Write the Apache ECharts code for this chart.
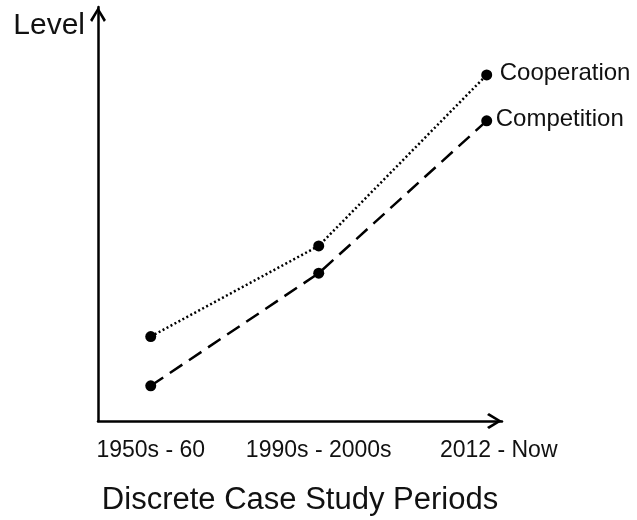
<!DOCTYPE html>
<html>
<head>
<meta charset="utf-8">
<script src="https://cdn.jsdelivr.net/npm/echarts@6/dist/echarts.min.js"></script>
<style>
  html, body { margin: 0; padding: 0; background: #fff; }
  #chart { width: 637px; height: 520px; }
</style>
</head>
<body>
<div id="chart"></div>
<script>
// Discrete case study periods (x) vs level (y, unitless 0-100)
const periods = ['1950s - 60', '1990s - 2000s', '2012 - Now'];
const periodPos = [0, 1, 2];
const cooperation = [20.4, 42.3, 83.6];
const competition = [8.5, 35.7, 72.5];

const FONT = 'Liberation Sans';
// open chevron arrow head, pointing up
const ARROW = 'path://M0,82 L50,0 L100,82 L87,94 L50,30 L13,94 Z';

const chart = echarts.init(document.getElementById('chart'), null, { renderer: 'canvas' });

const axisLine = {
  show: true,
  onZero: false,
  symbol: ['none', ARROW],
  symbolSize: [16, 15],
  symbolOffset: [0, -7.5],
  lineStyle: { color: '#000', width: 2.5 },
};

chart.setOption({
  backgroundColor: '#fff',
  animation: false,
  grid: { left: 98, right: 135, top: 7, bottom: 99, outerBoundsMode: 'none' },
  xAxis: {
    type: 'value',
    min: -0.314, max: 2.091,
    name: 'Discrete Case Study Periods',
    nameLocation: 'middle',
    nameGap: 64,
    nameTextStyle: { color: '#111', fontSize: 31, fontFamily: FONT },
    axisLine: axisLine,
    axisTick: { show: false },
    splitLine: { show: false },
    axisLabel: {
      customValues: periodPos,
      // last label sits a little right of its point in the original
      formatter: v => {
        const i = Math.round(v);
        return i === periods.length - 1 ? '{last|' + periods[i] + '}' : periods[i];
      },
      rich: { last: { padding: [0, 0, 0, 24], color: '#111', fontSize: 23, fontFamily: FONT } },
      color: '#111', fontSize: 23, fontFamily: FONT, margin: 18,
    },
  },
  yAxis: {
    type: 'value',
    min: 0, max: 100,
    name: 'Level',
    nameLocation: 'end',
    nameGap: -4,
    nameTextStyle: {
      color: '#111', fontSize: 30, fontFamily: FONT,
      align: 'right', verticalAlign: 'top', padding: [0, 13, 0, 0],
    },
    axisLine: axisLine,
    axisTick: { show: false },
    axisLabel: { show: false },
    splitLine: { show: false },
  },
  series: [
    {
      name: 'Cooperation',
      type: 'line',
      data: periodPos.map((x, i) => [x, cooperation[i]]),
      symbol: 'circle', symbolSize: 11,
      itemStyle: { color: '#000' },
      lineStyle: { color: '#000', width: 2.5, type: [2, 2.5] },
      endLabel: {
        show: true, formatter: '{a}', distance: 13, offset: [0, -2],
        color: '#111', fontSize: 24, fontFamily: FONT,
      },
    },
    {
      name: 'Competition',
      type: 'line',
      data: periodPos.map((x, i) => [x, competition[i]]),
      symbol: 'circle', symbolSize: 11,
      itemStyle: { color: '#000' },
      lineStyle: { color: '#000', width: 2.5, type: [15, 8] },
      endLabel: {
        show: true, formatter: '{a}', distance: 9, offset: [0, -1],
        color: '#111', fontSize: 24, fontFamily: FONT,
      },
    },
  ],
});
</script>
</body>
</html>
